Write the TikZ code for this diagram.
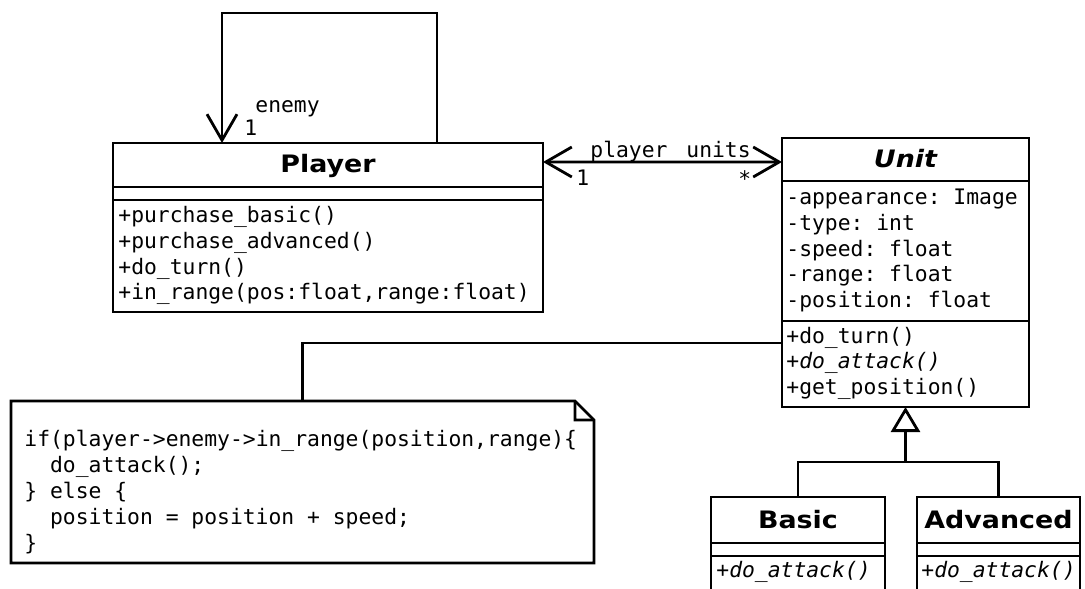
\documentclass[tikz,border=0pt]{standalone}
\usepackage{fontspec}
\setmonofont{DejaVu Sans Mono}
\newfontfamily\namefont[FakeStretch=1.12]{DejaVu Sans}
\usetikzlibrary{arrows.meta}

\begin{document}
\begin{tikzpicture}[x=1bp, y=-1bp, line width=2.8bp,
  cls/.style={draw, anchor=north west, inner sep=0pt, outer sep=0pt},
  txt/.style={anchor=base west, inner sep=0pt, font=\ttfamily\fontsize{21.35bp}{25.6bp}\selectfont},
  itxt/.style={txt, font=\ttfamily\itshape\fontsize{21.35bp}{25.6bp}\selectfont},
  clsname/.style={anchor=base, inner sep=0pt, font=\namefont\bfseries\fontsize{24bp}{29bp}\selectfont},
  barb/.tip={Straight Barb[length=26bp, width=30bp]},
  gen/.style={-{Triangle[open, length=25bp, width=29bp]}}]

\useasboundingbox (0,0) rectangle (1085,589);
\clip (0,0) rectangle (1085,589);

% ---- class Player
\node[cls, minimum width=430bp, minimum height=44bp]  (pname) at (113,143) {};
\node[cls, minimum width=430bp, minimum height=13bp]  (pattr) at (113,187) {};
\node[cls, minimum width=430bp, minimum height=112bp] (pops)  at (113,200) {};
\node[clsname] (pnameT) at (328,173) {Player};
\node[txt] (pm1) at (117,223)   {+purchase\_basic()};
\node[txt] (pm2) at (117,248.6) {+purchase\_advanced()};
\node[txt] (pm3) at (117,274.2) {+do\_turn()};
\node[txt] (pm4) at (117,299.8) {+in\_range(pos:float,range:float)};

% ---- abstract class Unit
\node[cls, minimum width=247bp, minimum height=43bp]  (uname) at (782,138) {};
\node[cls, minimum width=247bp, minimum height=140bp] (uattr) at (782,181) {};
\node[cls, minimum width=247bp, minimum height=86bp]  (uops)  at (782,321) {};
\node[clsname, font=\namefont\bfseries\itshape\fontsize{24bp}{29bp}\selectfont] (unameT) at (905.5,168) {Unit};
\node[txt] (ua1) at (785,205)   {-appearance: Image};
\node[txt] (ua2) at (785,230.6) {-type: int};
\node[txt] (ua3) at (785,256.2) {-speed: float};
\node[txt] (ua4) at (785,281.8) {-range: float};
\node[txt] (ua5) at (785,307.4) {-position: float};
\node[txt]  (uo1) at (785,343)   {+do\_turn()};
\node[itxt] (uo2) at (785,368.6) {+do\_attack()};
\node[txt]  (uo3) at (785,394.2) {+get\_position()};

% ---- class Basic
\node[cls, minimum width=174bp, minimum height=46bp] (bname) at (711,497) {};
\node[cls, minimum width=174bp, minimum height=13bp] (battr) at (711,543) {};
\node[cls, minimum width=174bp, minimum height=60bp] (bops)  at (711,556) {};
\node[clsname] (bnameT) at (798,528) {Basic};
\node[itxt] (bo1) at (715,577) {+do\_attack()};

% ---- class Advanced
\node[cls, minimum width=163bp, minimum height=46bp] (aname) at (917,497) {};
\node[cls, minimum width=163bp, minimum height=13bp] (aattr) at (917,543) {};
\node[cls, minimum width=163bp, minimum height=60bp] (aops)  at (917,556) {};
\node[clsname] (anameT) at (998.5,528) {Advanced};
\node[itxt] (ao1) at (920,577) {+do\_attack()};

% ---- note attached to Unit
\node[anchor=north west, inner sep=0pt, outer sep=0pt,
      minimum width=583bp, minimum height=162bp] (note) at (11,401) {};
\draw (note.north west) -- ([xshift=-19bp]note.north east)
      -- ([yshift=-19bp]note.north east) -- (note.south east)
      -- (note.south west) -- cycle;
\draw ([xshift=-19bp]note.north east) -- ++(0,19) -- ([yshift=-19bp]note.north east);
\node[txt] (n1) at (23,446)   {if(player->enemy->in\_range(position,range)\{};
\node[txt] (n2) at (48.7,472) {do\_attack();};
\node[txt] (n3) at (23,498)   {\} else \{};
\node[txt] (n4) at (48.7,524) {position = position + speed;};
\node[txt] (n5) at (23,550)   {\}};
\draw (note.north) |- ([yshift=-22bp]uops.north west);

% ---- self association: enemy
\draw[-barb] ([xshift=324bp]pname.north west) -- ++(0,-130)
      -| ([xshift=109bp]pname.north west);
\node[txt] (enemyL) at (254,113) {enemy};
\node[txt] (enemyM) at (243,136) {1};

% ---- association Player -- Unit
\draw[barb-barb] ([yshift=3bp]pname.east) -- ([yshift=-2.5bp]uname.west);
\node[txt] (playerL) at (589,158) {player};
\node[txt] (unitsL)  at (685,158) {units};
\node[txt] (playerM) at (575,186) {1};
\node[txt] (unitsM)  at (737,187) {*};

% ---- generalization
\coordinate (gj) at ([yshift=-55bp]uops.south);
\draw (bname.north) |- (gj) -| (aname.north);
\draw[gen] (gj) -- (uops.south);

\end{tikzpicture}
\end{document}
